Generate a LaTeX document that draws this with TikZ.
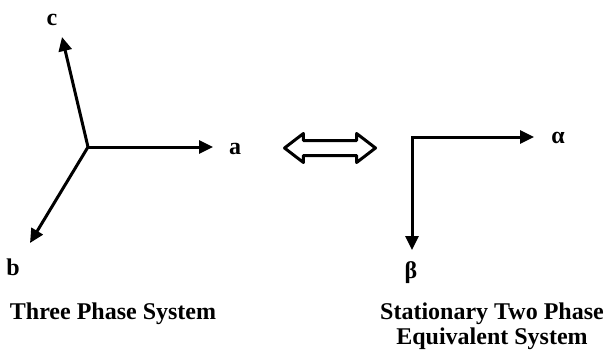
\documentclass[tikz,border=0pt]{standalone}
\usepackage{fontspec}
\setmainfont{Liberation Serif}
\usetikzlibrary{arrows.meta, shapes.arrows}

\begin{document}
\begin{tikzpicture}[x=1pt, y=-1pt,
    vec/.style={line width=3pt, -{Triangle[length=14pt, width=13pt]}},
    lbl/.style={font=\fontsize{24}{25}\selectfont\bfseries, inner sep=0pt},
    swap/.style={double arrow, draw, line width=3pt, line join=round,
        minimum height=91pt, inner sep=6pt,
        double arrow head extend=7pt, double arrow tip angle=75},
    ]
\useasboundingbox (0,0) rectangle (609,356);

\coordinate (o3) at (88,147);
\coordinate (ta) at (213,147);
\coordinate (tb) at (30,243);
\coordinate (tc) at (62,37);
\coordinate (o2) at (412,137);
\coordinate (tal) at (534,137);
\coordinate (tbe) at (412,250);

\node[lbl] (a) at (235,149) {a};
\node[lbl] (b) at (13,267) {b};
\node[lbl] (c) at (52,20) {c};
\node[lbl] (al) at (558,138) {α};
\node[lbl] (be) at (411,273) {β};

\draw[vec] (o3) -- (ta);
\draw[vec] (o3) -- (tb);
\draw[vec] (o3) -- (tc);
\draw[vec, {Triangle[length=14pt, width=13pt]}-{Triangle[length=14pt, width=13pt]}]
    (tal) -- (o2) -- (tbe);

\node[swap] (eq) at (330,148) {};

\node[lbl] (three) at (113,314) {Three Phase System};
\node[lbl, align=center] (two) at (492,326) {Stationary Two Phase\\Equivalent System};
\end{tikzpicture}
\end{document}
